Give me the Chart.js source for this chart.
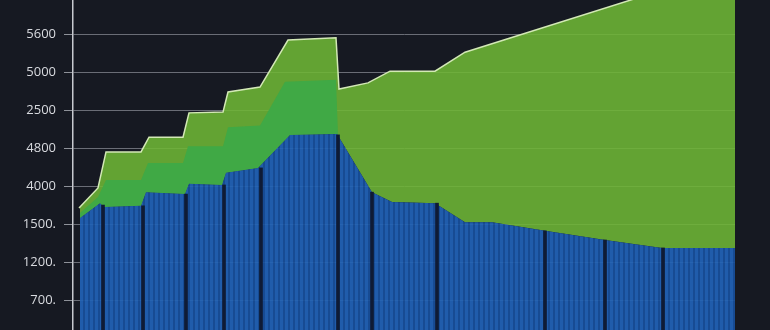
<!DOCTYPE html>
<html>
<head>
<meta charset="utf-8">
<script src="https://cdn.jsdelivr.net/npm/chart.js@4.4.1/dist/chart.umd.min.js"></script>
<style>
  html, body { margin: 0; padding: 0; background: #161922; overflow: hidden; }
  #wrap { width: 770px; height: 330px; }
</style>
</head>
<body>
<div id="wrap"><canvas id="areaChart" width="770" height="330"></canvas></div>
<script>
// y tick labels, bottom to top (as printed on the chart)
const tickLabels = ['700.', '1200.', '1500.', '4000', '4800', '2500', '5000', '5600'];

// blue base layer
const blueWeeks  = [0.7, 2.7, 3.1, 6.8, 7.3, 11.2, 11.6, 14.9, 15.3, 18.5, 21.7, 26.4, 29.9, 31.9, 36.2, 39.2, 41.9, 47.2, 53.2, 58.9, 66.2];
const blueValues = [3.17, 3.56, 3.46, 3.49, 3.85, 3.80, 4.07, 4.04, 4.36, 4.49, 5.36, 5.38, 3.85, 3.59, 3.56, 3.06, 3.06, 2.83, 2.59, 2.38, 2.38];

// middle green layer (only on the left part)
const midWeeks  = [0.7, 2.5, 3.3, 6.8, 7.5, 11.0, 11.5, 15.0, 15.5, 18.7, 21.2, 26.3, 26.5];
const midValues = [3.30, 3.72, 4.17, 4.17, 4.62, 4.62, 5.06, 5.06, 5.56, 5.61, 6.76, 6.81, 5.36];

// top yellow-green layer
const topWeeks  = [0.6, 2.5, 3.3, 6.8, 7.6, 11.0, 11.6, 15.0, 15.5, 18.7, 21.5, 26.3, 26.6, 29.5, 31.7, 36.2, 39.2, 66.2];
const topValues = [3.43, 3.96, 4.91, 4.91, 5.30, 5.30, 5.94, 5.96, 6.49, 6.62, 7.86, 7.92, 6.57, 6.73, 7.04, 7.04, 7.54, 9.78];

// dark separators inside the blue layer
const gapWeeks  = [3.0, 7.0, 11.3, 15.1, 18.8, 26.5, 29.9, 36.4, 47.2, 53.2, 59.0];
const gapValues = [3.51, 3.49, 3.80, 4.04, 4.49, 5.36, 3.85, 3.56, 2.83, 2.59, 2.38];

function toPoints(xs, ys) {
  return xs.map((x, i) => ({ x: x, y: ys[i] }));
}

// vertical stripes for the blue fill
function stripePattern() {
  const c = document.createElement('canvas');
  c.width = 5;
  c.height = 10;
  const g = c.getContext('2d');
  g.fillStyle = 'rgba(33, 98, 182, 0.93)';
  g.fillRect(0, 0, 3, 10);
  g.fillStyle = 'rgba(24, 80, 156, 0.93)';
  g.fillRect(3, 0, 2, 10);
  return g.createPattern(c, 'repeat');
}

const ctx = document.getElementById('areaChart');

new Chart(ctx, {
  type: 'line',
  data: {
    datasets: [
      {
        label: 'Blue',
        data: toPoints(blueWeeks, blueValues),
        backgroundColor: stripePattern(),
        borderWidth: 0,
        pointRadius: 0,
        pointHoverRadius: 0,
        fill: 'origin'
      },
      {
        label: 'Green',
        data: toPoints(midWeeks, midValues),
        backgroundColor: '#40a945',
        borderWidth: 0,
        pointRadius: 0,
        pointHoverRadius: 0,
        fill: 0
      },
      {
        label: 'Light green',
        data: toPoints(topWeeks, topValues),
        backgroundColor: 'rgba(110, 182, 53, 0.88)',
        borderColor: '#d3e9b6',
        borderWidth: 1.5,
        pointRadius: 0,
        pointHoverRadius: 0,
        fill: 0
      },
      {
        type: 'bar',
        label: 'Gaps',
        data: toPoints(gapWeeks, gapValues),
        backgroundColor: '#0f1b35',
        barThickness: 3,
        order: -1
      }
    ]
  },
  options: {
    responsive: false,
    animation: false,
    layout: { autoPadding: false, padding: { left: 0, right: 35, top: 0, bottom: 0 } },
    plugins: {
      legend: { display: false },
      tooltip: { enabled: false }
    },
    scales: {
      x: {
        type: 'linear',
        min: 0,
        max: 66.2,
        offset: false,
        display: false
      },
      y: {
        type: 'linear',
        min: 0.217,
        max: 8.915,
        afterFit: (scale) => {
          scale.width = 73;
          scale.paddingTop = 0;
          scale.paddingBottom = 0;
        },
        afterBuildTicks: (scale) => {
          scale.ticks = tickLabels.map((_, i) => ({ value: i + 1 }));
        },
        ticks: {
          color: '#d8dadf',
          padding: 8,
          font: { family: 'Open Sans', size: 13 },
          callback: (value) => tickLabels[value - 1]
        },
        grid: {
          color: '#6a6d76',
          lineWidth: 1,
          tickLength: 9,
          tickColor: '#8e9199'
        },
        border: { color: '#c7c9cf', width: 1.5 }
      }
    }
  }
});
</script>
</body>
</html>
